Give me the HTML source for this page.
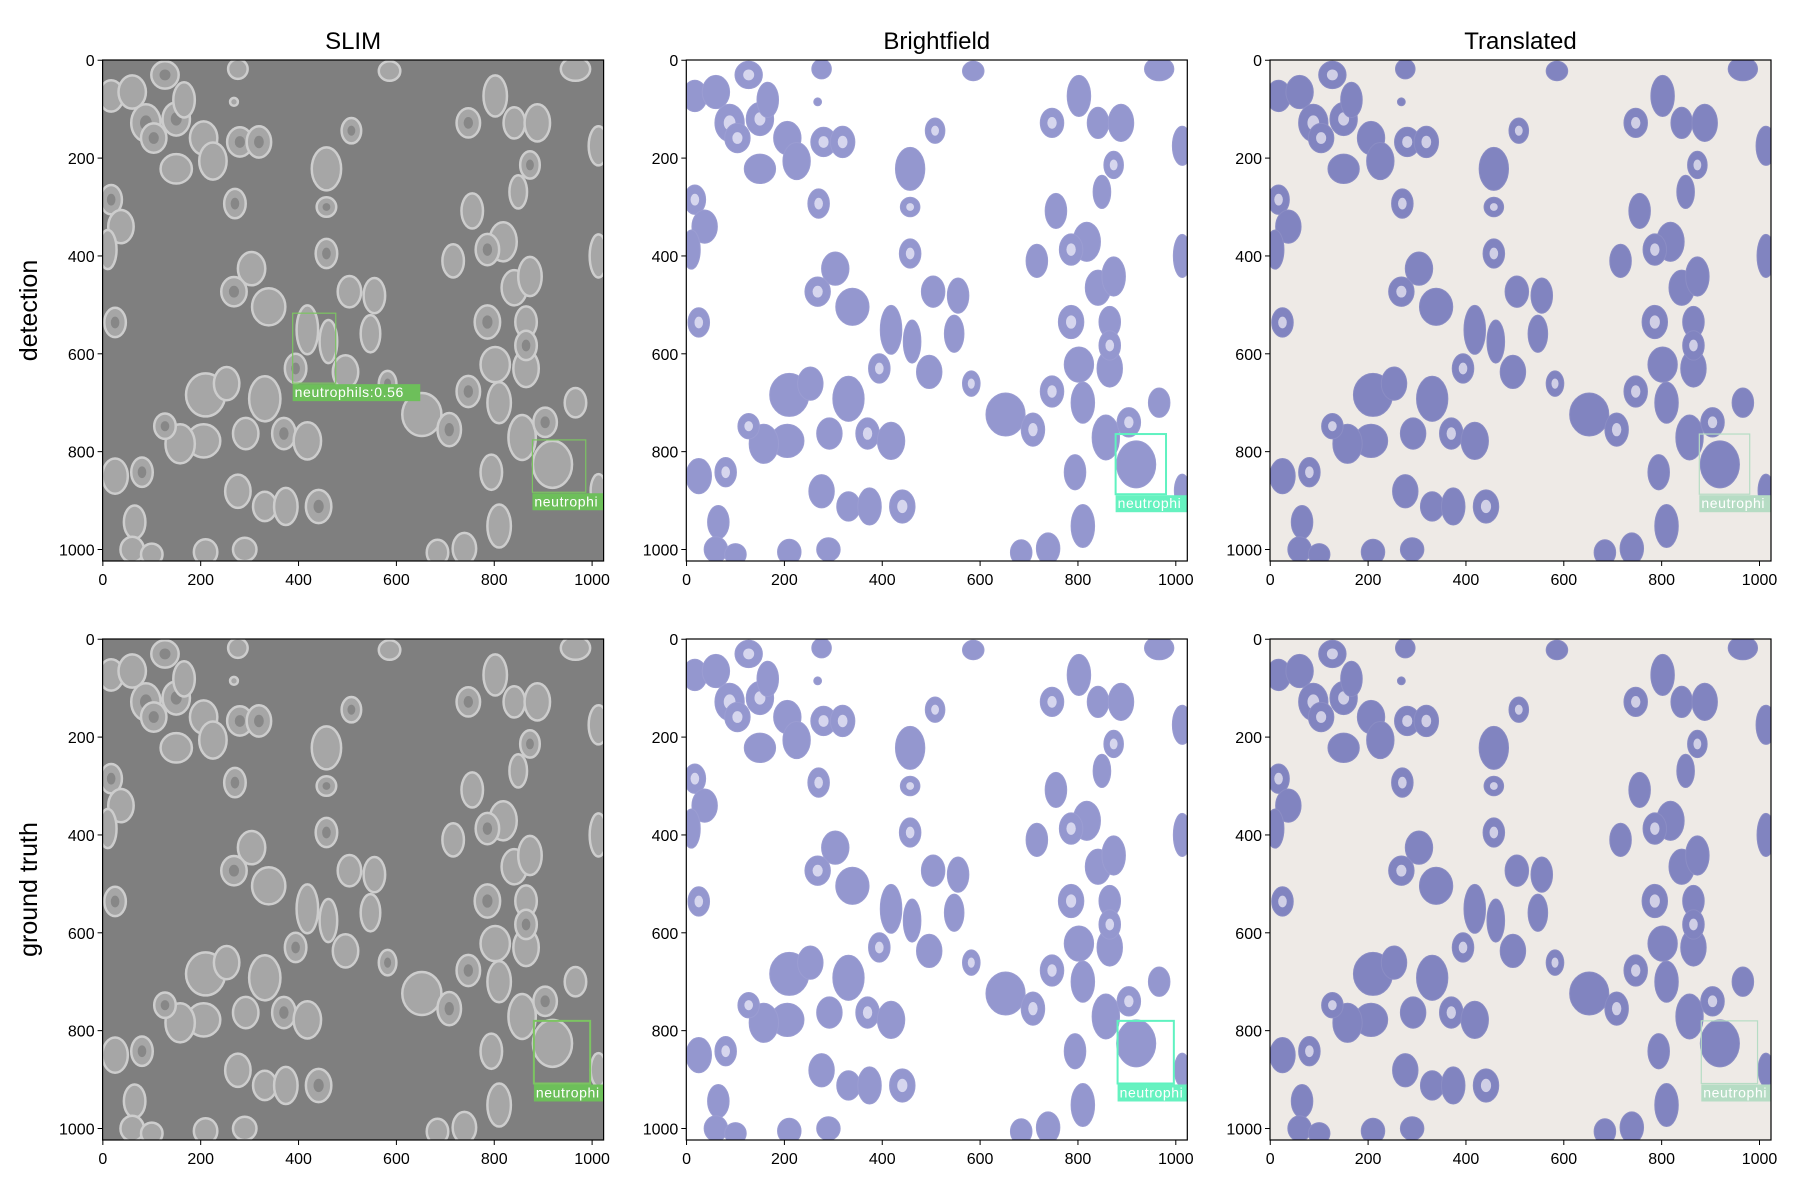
<!DOCTYPE html>
<html><head><meta charset="utf-8"><style>
html,body{margin:0;padding:0;background:#fff;}
svg{display:block;font-family:"Liberation Sans","DejaVu Sans",sans-serif;}
</style></head><body>
<svg id="fig" width="1800" height="1200" viewBox="0 0 1800 1200" xmlns="http://www.w3.org/2000/svg"></svg>
<script>
// ---- data (image coordinates 0..1024) ----
const colTitles = ["SLIM","Brightfield","Translated"];
const rowTitles = ["detection","ground truth"];
const tickValues = [0,200,400,600,800,1000];
const tickLabels = ["0","200","400","600","800","1000"];
// cells: x, y, rx, ry, ring(1/0)
const cellX = [17,60,127,88,150,104,166,206,150,225,280,319,270,276,268,457,508,457,457,17,37,10,25,304,268,339,418,461,504,555,547,496,394,582,210,253,331,292,206,158,127,370,418,276,331,374,441,25,80,65,652,708,747,802,810,794,810,684,739,857,919,966,904,865,786,841,865,865,818,786,755,716,747,802,841,888,873,849,873,966,586,1013,1013,1013,60,100,210,290];
const cellY = [73,65,30,128,120,159,81,159,222,206,167,167,293,18,85,222,144,300,395,285,340,387,536,426,473,504,551,575,473,481,559,637,630,661,684,661,692,763,778,784,748,763,778,881,912,912,912,850,842,944,724,755,677,622,700,842,952,1006,998,771,826,700,740,630,535,465,535,583,371,387,308,410,128,73,128,128,214,269,442,18,22,175,400,880,1000,1010,1005,1000];
const cellRX = [25,28,28,30,28,26,22,28,32,28,26,25,22,20,8,30,20,20,22,22,26,18,22,28,26,34,22,18,24,22,20,26,22,18,40,26,32,26,34,30,22,24,28,26,24,24,26,26,22,22,40,24,24,30,24,22,24,22,24,28,40,22,24,26,26,26,22,22,28,24,22,22,24,24,22,26,20,18,24,30,22,20,18,16,24,22,24,24];
const cellRY = [32,34,28,38,34,30,36,34,30,38,30,32,30,20,8,44,26,20,30,30,34,40,30,34,30,38,50,44,32,36,38,34,30,26,44,34,46,32,34,40,26,32,38,34,30,38,34,36,30,34,44,34,32,36,42,36,44,26,32,46,48,30,30,38,34,36,32,30,40,32,36,34,30,42,32,38,28,34,40,24,20,40,44,34,26,22,26,24];
const cellRing = [0,0,1,1,1,1,0,0,0,0,1,1,1,0,0,0,1,1,1,1,0,0,1,0,1,0,0,0,0,0,0,0,1,1,0,0,0,0,0,0,1,1,0,0,0,0,1,0,1,0,0,1,1,0,0,0,0,0,0,0,0,0,1,0,1,0,0,1,0,1,0,0,1,0,0,0,1,0,0,0,0,0,0,0,0,0,0,0];
// detection boxes per column
const detBoxesSlim = [[[388,517,476,660],"neutrophils:0.56"],[[878,776,987,883],"neutrophi"]];
const detBoxesOther = [[[877,764,980,887],"neutrophi"]];
const gtBoxes = [[[881,780,996,908],"neutrophi"]];

// ---- layout ----
const NS="http://www.w3.org/2000/svg";
const svg=document.getElementById('fig');
const colLeft=[102.6,686.3,1270];
const rowTop=[60,639];
const W=501, H=501;
const styles=[
 {bg:"#7f7f7f",cell:"#a6a6a6",rim:"#cdcdcd",center:"#878787",box:"#7cc462",lab:"#6dbf5a"},
 {bg:"#ffffff",cell:"#9497cf",rim:"#9b9dd2",center:"#d6d6ee",box:"#5ff2c0",lab:"#66f2c0"},
 {bg:"#eeeae6",cell:"#8184c0",rim:"#8b8dc4",center:"#d0cfe6",box:"#b6dcc4",lab:"#b6dcc4"}
];
function mk(tag,attrs,parent){const e=document.createElementNS(NS,tag);for(const k in attrs)e.setAttribute(k,attrs[k]);(parent||svg).appendChild(e);return e;}
function xs(c,v){return colLeft[c]+(v+0.5)/1024*W;}
function ys(r,v){return rowTop[r]+(v+0.5)/1024*H;}
const defs=mk('defs',{});
for(let r=0;r<2;r++){
 for(let c=0;c<3;c++){
  const st=styles[c];
  const cp=mk('clipPath',{id:'cp'+r+c},defs);
  mk('rect',{x:colLeft[c],y:rowTop[r],width:W,height:H},cp);
  const g=mk('g',{'clip-path':'url(#cp'+r+c+')'});
  
  
  mk('rect',{x:colLeft[c],y:rowTop[r],width:W,height:H,fill:st.bg},g);
  for(let i=0;i<cellX.length;i++){
   const cx=xs(c,cellX[i]), cy=ys(r,cellY[i]);
   const rx=cellRX[i]/1024*W, ry=cellRY[i]/1024*H;
   const e=mk('ellipse',{cx:cx,cy:cy,rx:rx,ry:ry,fill:st.cell,stroke:st.rim,'stroke-width':c===0?2.5:1},g);
   
   
   if(cellRing[i]){mk('ellipse',{cx:cx,cy:cy,rx:rx*0.4,ry:ry*0.4,fill:st.center},g);}
  }
  const boxes=r===0?(c===0?detBoxesSlim:detBoxesOther):gtBoxes;
  boxes.forEach(b=>{
   const [x0,y0,x1,y1]=b[0];
   const px0=xs(c,x0),py0=ys(r,y0),px1=xs(c,x1),py1=ys(r,y1);
   const bx=mk('rect',{x:px0,y:py0,width:px1-px0,height:py1-py0,fill:'none',stroke:st.box,'stroke-width':(c===1||r===1&&c===0)?2:1.2},g);
   
   
   const tw=b[1].length*7.6+6;
   mk('rect',{x:px0,y:py1+1,width:tw,height:17,fill:st.lab},g);
   const t=mk('text',{x:px0+2,y:py1+14,'font-size':14,fill:'#ffffff','letter-spacing':0.6},g);
   t.textContent=b[1];
   
   
  });
  const fr=mk('rect',{x:colLeft[c],y:rowTop[r],width:W,height:H,fill:'none',stroke:'#000','stroke-width':1.2});
  
  
  tickValues.forEach((v,k)=>{
   const x=xs(c,v), y0=rowTop[r]+H;
   mk('line',{x1:x,y1:y0,x2:x,y2:y0+5,stroke:'#000','stroke-width':1});
   const t=mk('text',{x:x,y:y0+24,'font-size':16,'text-anchor':'middle',fill:'#000'});
   t.textContent=tickLabels[k];
   
   
   const y=ys(r,v), x0=colLeft[c];
   mk('line',{x1:x0,y1:y,x2:x0-5,y2:y,stroke:'#000','stroke-width':1});
   const t2=mk('text',{x:x0-8,y:y+6,'font-size':16,'text-anchor':'end',fill:'#000'});
   t2.textContent=tickLabels[k];
   
   
  });
 }
}
colTitles.forEach((s,c)=>{
 const t=mk('text',{x:colLeft[c]+W/2,y:49,'font-size':24,'text-anchor':'middle',fill:'#000'});
 t.textContent=s;
 
 
});
rowTitles.forEach((s,r)=>{
 const cy=rowTop[r]+H/2;
 const t=mk('text',{x:0,y:0,'font-size':25,'text-anchor':'middle',fill:'#000',transform:'translate(37,'+cy+') rotate(-90)'});
 t.textContent=s;
 
 
});
</script>
</body></html>
